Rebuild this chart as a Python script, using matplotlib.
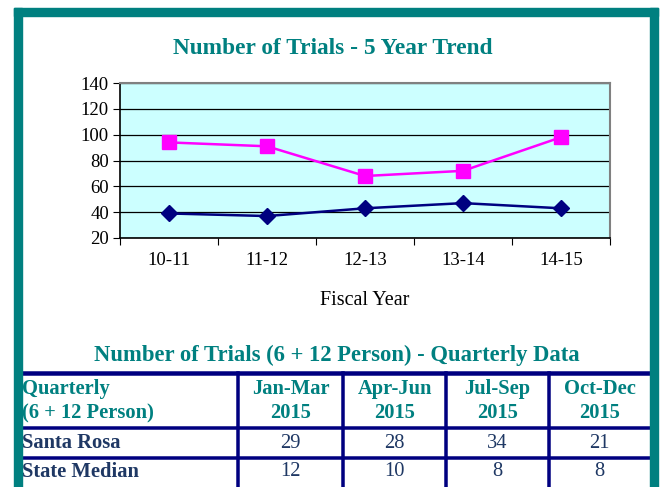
import matplotlib.pyplot as plt
from matplotlib.lines import Line2D
from matplotlib.patches import Rectangle

plt.rcParams['font.family'] = ['Liberation Serif', 'DejaVu Serif']

# trend chart data
years = ['10-11', '11-12', '12-13', '13-14', '14-15']
santa_rosa_trend = [94, 91, 68, 72, 98]
state_median_trend = [39, 37, 43, 47, 43]

# quarterly table data
quarters = ['Jan-Mar\n2015', 'Apr-Jun\n2015', 'Jul-Sep\n2015', 'Oct-Dec\n2015']
row_labels = ['Santa Rosa', 'State Median']
santa_rosa_q = [29, 28, 34, 21]
state_median_q = [12, 10, 8, 8]

TEAL = '#008080'
NAVY = '#000080'
W, H = 660, 487


def fx(px):
    return px / W


def fy(py):
    return 1 - py / H


fig = plt.figure(figsize=(6.6, 4.87), dpi=100)

# teal frame (no bottom edge)
for x0, y0, w, h in [(14, 8, 644, 8), (14, 8, 8, 479), (650, 8, 8, 479)]:
    fig.patches.append(Rectangle((fx(x0), fy(y0 + h)), w / W, h / H,
                                 transform=fig.transFigure, color=TEAL, zorder=5))

fig.text(fx(333), fy(48), 'Number of Trials - 5 Year Trend', color=TEAL,
         fontsize=16.8, fontweight='bold', ha='center', va='center')

ax = fig.add_axes([fx(120), fy(238), (610 - 120) / W, (238 - 83) / H])
ax.set_facecolor('#CCFFFF')
x = range(len(years))
ax.plot(x, santa_rosa_trend, color='#FF00FF', lw=1.8, marker='s', ms=10, zorder=3)
ax.plot(x, state_median_trend, color='#000080', lw=1.8, marker='D', ms=8, zorder=3)
ax.set_xlim(-0.5, len(years) - 0.5)
ax.set_ylim(20, 140)
ax.set_yticks(range(20, 141, 20))
ax.yaxis.grid(True, color='black', lw=0.9)
ax.set_axisbelow(True)
ax.set_xticks([i - 0.5 for i in range(len(years) + 1)])
ax.set_xticklabels([])
ax.set_xticks(list(x), minor=True)
ax.set_xticklabels(years, minor=True)
ax.tick_params(axis='x', which='minor', length=0, pad=10, labelsize=13.5)
ax.tick_params(axis='x', which='major', length=5, direction='out')
ax.tick_params(axis='y', length=5, direction='out', labelsize=13.5, pad=3)
for s in ['top', 'right']:
    ax.spines[s].set_color('#808080')
    ax.spines[s].set_linewidth(1.5)
for s in ['left', 'bottom']:
    ax.spines[s].set_linewidth(1.2)
ax.set_xlabel('Fiscal Year', fontsize=14.5, labelpad=16)

# quarterly table
fig.text(fx(337), fy(355), 'Number of Trials (6 + 12 Person) - Quarterly Data',
         color=TEAL, fontsize=16.3, fontweight='bold', ha='center', va='center')

hlines = [(373, 4.5), (428, 3.5), (458, 3.5)]
for py, lw in hlines:
    fig.add_artist(Line2D([fx(22), fx(650)], [fy(py), fy(py)], color=NAVY,
                          lw=lw * 0.72, transform=fig.transFigure))
col_edges = [238, 343, 446, 549, 650]
for px in col_edges[:-1]:
    fig.add_artist(Line2D([fx(px), fx(px)], [fy(373), fy(487)], color=NAVY,
                          lw=3.5 * 0.72, transform=fig.transFigure))

fig.text(fx(22), fy(401), 'Quarterly\n(6 + 12 Person)', color=TEAL, fontsize=14.8,
         fontweight='bold', ha='left', va='center', linespacing=1.3)
centers = [(a + b) / 2 for a, b in zip(col_edges[:-1], col_edges[1:])]
for cx, q in zip(centers, quarters):
    fig.text(fx(cx), fy(401), q, color=TEAL, fontsize=14.8, fontweight='bold',
             ha='center', va='center', linespacing=1.3)

for py, label, vals in [(443, row_labels[0], santa_rosa_q),
                        (472, row_labels[1], state_median_q)]:
    fig.text(fx(22), fy(py), label, color='#1F3864', fontsize=14.8,
             fontweight='bold', ha='left', va='center')
    for cx, v in zip(centers, vals):
        fig.text(fx(cx), fy(py), str(v), color='#1F3864', fontsize=14.8,
                 ha='center', va='center')

fig.savefig('out.png', dpi=100)
